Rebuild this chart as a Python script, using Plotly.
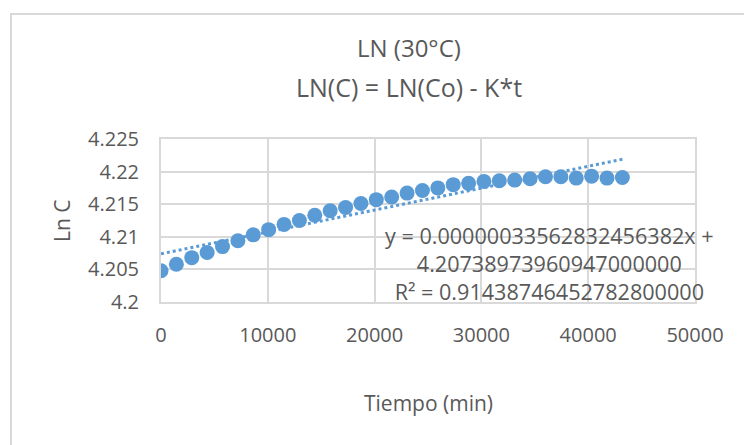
import plotly.graph_objects as go

# Tiempo (min) and Ln C readings at 30 °C
tiempo_min = [0, 1440, 2880, 4320, 5760, 7200, 8640, 10080, 11520, 12960,
              14400, 15840, 17280, 18720, 20160, 21600, 23040, 24480, 25920,
              27360, 28800, 30240, 31680, 33120, 34560, 36000, 37440, 38880,
              40320, 41760, 43200]
ln_c = [4.2048, 4.2058, 4.2068, 4.2076, 4.2085, 4.2094, 4.2103, 4.2111,
        4.2119, 4.2125, 4.2133, 4.2140, 4.2145, 4.2151, 4.2157, 4.2161,
        4.2167, 4.2171, 4.2175, 4.2180, 4.2182, 4.2185, 4.2186, 4.2187,
        4.2189, 4.2192, 4.2192, 4.2190, 4.2193, 4.2190, 4.2191]

# Linear trendline coefficients
slope = 0.00000033562832456382
intercept = 4.20738973960947
r_squared = 0.914387464527828

x_ticks = [0, 10000, 20000, 30000, 40000, 50000]
x_tick_text = ["0", "10000", "20000", "30000", "40000", "50000"]
y_ticks = [4.2, 4.205, 4.21, 4.215, 4.22, 4.225]
y_tick_text = ["4.2", "4.205", "4.21", "4.215", "4.22", "4.225"]

BLUE = "#5B9BD5"
TEXT = "#595959"
GRID = "#D9D9D9"
FONT = "Open Sans"

W, H = 744, 445
ML, MR, MT, MB = 161, 49, 139, 143
PW, PH = W - ML - MR, H - MT - MB


def px_x(px):
    return (px - ML) / PW


def px_y(py):
    return (H - MB - py) / PH


trend_x = [min(tiempo_min), max(tiempo_min)]
trend_y = [slope * v + intercept for v in trend_x]

fig = go.Figure()
fig.add_trace(go.Scatter(
    x=trend_x, y=trend_y, mode="lines",
    line=dict(color=BLUE, width=3, dash="dot"),
    showlegend=False, hoverinfo="skip",
))
fig.add_trace(go.Scatter(
    x=tiempo_min, y=ln_c, mode="markers",
    marker=dict(color=BLUE, size=15, line=dict(width=0)),
    showlegend=False,
))

axis_common = dict(
    showgrid=True, gridcolor=GRID, gridwidth=2,
    showline=True, linecolor=GRID, linewidth=2, mirror=True,
    zeroline=False, ticks="",
    tickfont=dict(family=FONT, size=20, color=TEXT),
)
fig.update_xaxes(range=[0, 50000], tickvals=x_ticks, ticktext=x_tick_text,
                 ticklabelstandoff=14, **axis_common)
fig.update_yaxes(range=[4.2, 4.225], tickvals=y_ticks, ticktext=y_tick_text,
                 ticklabelstandoff=16, **axis_common)

eq_text = (
    "y = 0.00000033562832456382x +<br>"
    "4.20738973960947000000<br>"
    "R² = 0.91438746452782800000"
)

annotations = [
    dict(text="LN (30°C)", x=px_x(409), y=px_y(48), font=dict(size=24)),
    dict(text="LN(C) = LN(Co) - K*t", x=px_x(409), y=px_y(87), font=dict(size=25)),
    dict(text="Tiempo (min)", x=px_x(428), y=px_y(403), font=dict(size=21)),
    dict(text="Ln C", x=px_x(62), y=px_y(221), font=dict(size=21), textangle=-90),
    dict(text=eq_text, x=px_x(549), y=px_y(263), font=dict(size=21.6), align="center"),
]
for a in annotations:
    a.update(xref="paper", yref="paper", showarrow=False,
             xanchor="center", yanchor="middle")
    a["font"].update(family=FONT, color=TEXT)

fig.update_layout(
    width=W, height=H,
    margin=dict(l=ML, r=MR, t=MT, b=MB),
    paper_bgcolor="white", plot_bgcolor="white",
    annotations=annotations,
    shapes=[dict(
        type="rect", xref="paper", yref="paper", layer="below",
        x0=px_x(11), x1=px_x(770), y0=px_y(14), y1=px_y(470),
        line=dict(color=GRID, width=2), fillcolor="white",
    )],
)

fig.write_html("out.html")
